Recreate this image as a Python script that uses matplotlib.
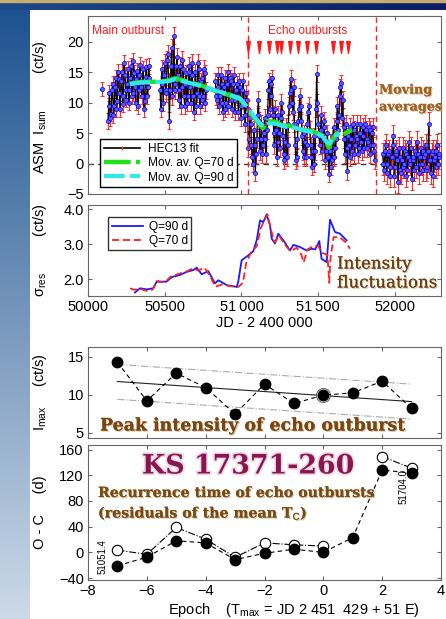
import numpy as np
import matplotlib.pyplot as plt
import matplotlib.patheffects as pe
from matplotlib.path import Path

plt.rcParams.update({
    "font.family": ["Liberation Sans", "DejaVu Sans"],
    "font.size": 10.5,
    "mathtext.fontset": "custom",
    "mathtext.rm": "Liberation Sans",
    "mathtext.it": "Liberation Sans",
})

W, H = 446, 619

# ---------------- data ----------------
# ASM light curve: each observing segment starts at lc_start and is sampled every 5 d;
# values alternate between the "a" and "b" lists
lc_start = [50090, 50130, 50470, 50830, 51920]
lc_step = 5
lc_a = [
    [12.2],
    [7.0, 11.5, 8.2, 13.0, 9.5, 14.0, 10.2, 13.8, 9.0, 15.0, 11.0, 14.5, 10.5, 15.5,
     12.0, 16.0, 11.5, 14.8, 10.0, 15.2, 12.0, 16.2, 11.0, 15.5, 10.2, 15.8, 12.5, 14.0],
    [12.0, 15.5, 10.0, 16.5, 11.5, 18.0, 7.0, 16.0, 11.0, 21.0, 12.0, 17.5, 10.5, 16.0,
     12.5, 15.5, 9.5, 14.8, 11.0, 16.0, 10.0, 14.5, 8.5, 15.0, 11.5, 15.5, 9.5, 14.0,
     11.0, 14.8, 12.0],
    [13.5, 10.5, 14.5, 11.0, 13.0, 8.5, 14.0, 10.0, 15.0, 11.5, 13.5, 9.0, 14.5, 10.5,
     13.0, 8.5, 12.5, 9.5, 13.5, 8.0, 11.5, 9.0, 4.0, 6.5, 1.0, 5.5, -1.5, 4.0,
     10.5, 2.0, 6.5, 3.0, 7.5, 1.5, 8.0, 13.5, 11.0, 14.0, 5.0, 9.0, 1.0, 8.0,
     2.5, 10.0, 4.5, 0.5, 6.0, 3.0, 9.5, 13.9, 10.0, 12.5, 3.0, 1.0, 7.0, 11.0,
     9.5, 2.0, 5.0, 1.0, 6.5, 9.5, 3.0, -0.5, 4.5, 2.0, 14.7, 6.5, 3.0, 8.0,
     4.0, 6.0, 2.0, 5.0, -1.7, 3.5, 0.5, 6.0, 2.5, 7.0, 5.5, 11.0, 13.2, 10.5,
     4.0, 6.5, -1.3, 3.0, 6.0, 2.0, 5.5, 3.0, 6.5, 1.5, 5.0, 3.5, 6.0, 2.5,
     5.5, 4.0, 6.0, 1.5, 5.0, 3.0, 0.5],
    [1.5, -1.0, 3.0, 0.0, 2.0, -2.0, 1.0, 4.5, -0.5, 2.0, -3.0, 1.0, -1.5, 2.5,
     0.0, 1.5, -1.0, 3.5, 0.5, -2.5, 1.0, 2.0, -0.5, 1.5, 0.0, 2.5, -1.0, 1.0,
     3.0, -0.5, 6.5, 0.5, 1.5, -2.0, 1.0, 2.0, 0.0, 1.5],
]
lc_b = [
    [],
    [9.5, 7.5, 12.0, 8.0, 12.5, 9.0, 15.0, 11.5, 13.5, 9.8, 16.5, 12.0, 13.0, 10.0,
     14.0, 11.0, 16.8, 12.5, 13.8, 9.5, 14.5, 12.5, 13.2, 9.0, 14.2, 11.0, 16.0],
    [9.0, 13.0, 14.5, 12.0, 17.0, 13.5, 12.0, 19.0, 14.0, 13.0, 16.0, 14.5, 12.0, 9.5,
     17.0, 11.0, 13.0, 10.0, 15.0, 12.5, 16.5, 11.0, 13.0, 9.5, 16.5, 11.0, 13.5, 10.5,
     15.5, 10.0],
    [11.0, 12.5, 9.5, 14.5, 10.0, 12.5, 9.0, 13.0, 9.5, 14.0, 10.5, 13.0, 8.5, 12.0,
     11.0, 13.5, 7.5, 12.0, 10.5, 6.5, 10.5, 2.5, 7.5, 3.0, 0.0, 3.0, 1.5, 8.0,
     7.0, 4.0, 1.5, 5.0, 4.0, 5.5, 12.0, 9.0, 13.0, 8.0, 3.0, 5.5, 3.5, 5.0,
     7.5, 8.5, 1.5, 3.5, 1.0, 6.5, 11.5, 12.0, 8.5, 6.5, 0.5, 4.0, 9.0, 7.0,
     4.5, 1.0, 3.5, 3.0, 8.5, 5.5, 1.0, 2.0, 0.0, 9.0, 10.0, 4.5, 5.5, 2.0,
     7.0, 0.5, 3.5, 1.0, 2.0, -0.5, 4.5, 1.0, 4.0, 9.5, 8.0, 12.5, 7.5, 6.0,
     1.5, 2.5, 4.5, 1.0, 4.0, 6.5, 1.5, 4.5, 4.0, 2.5, 6.5, 2.0, 4.5, 6.5,
     2.5, 3.5, 5.5, 3.0, 6.0, 2.0],
    [0.0, 2.0, -1.5, 1.5, -0.5, 1.0, 3.0, -2.0, 1.5, 0.5, 2.5, -1.0, 0.5, -0.5,
     2.0, -2.0, 1.0, 0.0, 2.5, 0.5, -1.0, 1.5, 3.5, -1.5, 1.0, 0.0, 2.0, 1.5,
     -1.0, 2.0, 0.5, -1.5, 2.0, 0.5, -0.5, 3.0, 1.0],
]
lc_err = [1.2, 1.3, 1.4, 1.4, 1.9]

# moving averages
mav70_t = [50272, 50350, 50430, 50520, 50570, 50650, 50740, 50840, 50910, 50990, 51040, 51080, 51120,
           51140, 51170, 51190, 51230, 51270, 51320, 51360, 51400, 51450, 51490, 51530, 51555, 51568,
           51590, 51622, 51660, 51690, 51720]
mav70 = [13.1, 13.4, 13.4, 13.6, 14.0, 13.4, 12.8, 11.8, 11.3, 10.6, 8.9, 7.6, 6.3,
         5.8, 7.0, 6.9, 6.8, 6.2, 6.2, 5.7, 5.5, 5.4, 5.0, 4.6, 3.6, 2.6,
         3.8, 5.0, 4.6, 5.2, 5.5]
mav90_t = [50272, 50350, 50430, 50520, 50570, 50650, 50740, 50840, 50910, 50990, 51040, 51080, 51120,
           51150, 51180, 51230, 51270, 51320, 51360, 51400, 51450, 51490, 51530, 51555, 51575, 51600, 51642]
mav90 = [13.0, 13.3, 13.3, 13.5, 13.8, 13.3, 12.7, 11.9, 11.4, 10.7, 9.2, 7.8, 6.6,
         6.0, 6.6, 6.5, 6.1, 6.0, 5.8, 5.5, 5.2, 5.0, 4.4, 3.5, 3.3, 4.6, 4.8]

echo_marks = [51043, 51113, 51181, 51229, 51257, 51316, 51369, 51424, 51484, 51599, 51646, 51693]
outburst_lines = [51040, 51877]

# residual scatter
sig90_t = [50306, 50339, 50382, 50425, 50447, 50512, 50545, 50599, 50643, 50686, 50708, 50741, 50784,
           50827, 50849, 50904, 50969, 50979, 51001, 51044, 51077, 51099, 51121, 51142, 51164, 51186,
           51197, 51218, 51240, 51273, 51316, 51338, 51381, 51425, 51457, 51480, 51507, 51522, 51555,
           51577, 51609, 51642, 51685]
sig90 = [1.62, 1.74, 1.71, 1.74, 1.93, 1.93, 2.06, 2.12, 2.21, 2.26, 2.33, 2.14, 2.23,
         1.88, 1.97, 1.83, 1.78, 1.93, 2.54, 2.68, 2.80, 3.11, 3.68, 3.63, 3.85, 3.54,
         3.16, 3.02, 3.30, 3.11, 2.82, 2.98, 2.92, 2.82, 2.87, 2.85, 3.09, 2.58, 2.49,
         3.70, 3.35, 3.30, 3.11]
sig70_t = [50274, 50300, 50340, 50390, 50420, 50450, 50500, 50540, 50590, 50640, 50680, 50720, 50760,
           50800, 50830, 50870, 50930, 50980, 51010, 51030, 51060, 51100, 51125, 51150, 51170, 51190,
           51215, 51245, 51280, 51320, 51360, 51390, 51405, 51430, 51470, 51500, 51525, 51560, 51572,
           51580, 51600, 51640, 51680, 51707]
sig70 = [1.74, 1.70, 1.72, 1.66, 1.70, 1.95, 1.90, 2.08, 2.15, 2.22, 2.30, 2.25, 2.33,
         2.05, 1.78, 1.85, 1.80, 1.78, 1.90, 2.45, 2.75, 2.95, 3.45, 3.70, 3.85, 3.45,
         3.05, 3.25, 3.00, 2.80, 2.90, 2.70, 2.48, 2.85, 2.95, 2.95, 2.75, 2.70, 1.90,
         2.60, 3.20, 3.20, 3.05, 2.87]

# echo outbursts vs epoch
epoch = [-7, -6, -5, -4, -3, -2, -1, 0, 1, 2, 3]
imax = [14.3, 9.2, 12.85, 10.95, 7.45, 11.4, 8.85, 9.95, 10.25, 11.8, 8.2]
imax_fit_E = [-7, 3]
imax_fit = [11.75, 9.1]
imax_hi = [14.0, 11.4]
imax_lo = [9.4, 6.8]
oc_filled = [-21, -7.4, 18, 14.7, -11.3, -1.5, 4.9, 0, 23, 128, 123.5]
oc_open = [3.4, -3, 38.7, 20.6, -7.8, 14.7, 11.8, 9.8, np.nan, 149, 131]


# ---------------- figure ----------------
fig = plt.figure(figsize=(W / 100, H / 100), dpi=100)

def fx(px):
    return px / W

def fy(py):
    return 1 - py / H

# slide background
bg = fig.add_axes([0, 0, 1, 1], zorder=-5)
bg.set_xlim(0, W)
bg.set_ylim(H, 0)
bg.axis("off")
grad_v = np.linspace(0, 1, 256).reshape(-1, 1)
c_top = np.array([0x1d, 0x52, 0x90]) / 255
c_bot = np.array([0xcd, 0xda, 0xe8]) / 255
strip = c_top + grad_v[..., None] * (c_bot - c_top)
bg.imshow(strip, extent=[0, 30, H, 10], aspect="auto")
grad_h = np.linspace(0, 1, 256).reshape(1, -1)
b_left = np.array([0x1b, 0x4a, 0x8a]) / 255
b_right = np.array([0x0d, 0x1a, 0x68]) / 255
band = b_left + grad_h[..., None] * (b_right - b_left)
bg.imshow(band, extent=[0, W, 10.5, 0], aspect="auto")
bg.fill_between([0, W], 0, 1.6, color="#c4ae6e")

def axbox(x0, y0, x1, y1):
    return fig.add_axes([fx(x0), fy(y1), (x1 - x0) / W, (y1 - y0) / H])

def style(ax):
    for s in ax.spines.values():
        s.set_color("#666666")
        s.set_linewidth(0.8)
    ax.tick_params(direction="in", length=3, color="#666666", top=True, right=True,
                   labelsize=10.5, pad=3)

# ---- panel 1: light curve ----
ax1 = axbox(88, 16, 441, 194)
style(ax1)
for t0, a, b, e in zip(lc_start, lc_a, lc_b, lc_err):
    r = np.empty(len(a) + len(b))
    r[0::2] = a
    r[1::2] = b
    t = t0 + lc_step * np.arange(len(r))
    ax1.errorbar(t, r, yerr=e, fmt="none", ecolor="#ff2a2a", elinewidth=0.8, capsize=1.3,
                 capthick=0.7, zorder=2)
    ax1.plot(t, r, "-", color="black", lw=0.9, zorder=3)
    ax1.plot(t, r, "o", ms=3.0, mfc="#5a5aff", mec="#0000dd", mew=0.5, zorder=4)
ax1.plot([], [], "-", color="black", lw=1.2, marker="|", mec="#ff4020", ms=3, label="HEC13 fit")
ax1.plot(mav70_t, mav70, color="#22e01e", lw=3.2, ls=(0, (6, 1.2)), zorder=5, label="Mov. av. Q=70 d")
ax1.plot(mav90_t, mav90, color="#33e8e8", lw=3.0, ls=(0, (5, 1.2)), zorder=6, label="Mov. av. Q=90 d")
ax1.axhline(0, color="#333333", lw=1.0, ls=(0, (4, 3)), zorder=1)
for xv in outburst_lines:
    ax1.axvline(xv, color="#ff2020", lw=1.0, ls=(0, (4, 2.5)), zorder=7)
tri = Path([(-0.3, 1), (0.3, 1), (0, -1), (-0.3, 1)],
           [Path.MOVETO, Path.LINETO, Path.LINETO, Path.CLOSEPOLY])
ax1.plot(echo_marks, [19.05] * len(echo_marks), ls="none", marker=tri, ms=8.5,
         color="#ff1a1a", zorder=8)
ax1.set_xlim(50000, 52300)
ax1.set_ylim(-4.2, 24.2)
ax1.set_yticks([-5, 0, 5, 10, 15, 20])
ax1.set_xticks([50000, 50500, 51000, 51500, 52000])
ax1.set_xticklabels([])
leg1 = ax1.legend(loc="lower left", bbox_to_anchor=(0.018, 0.005), fontsize=8.6, frameon=True,
                  fancybox=False, edgecolor="black", handlelength=3.0, borderpad=0.3,
                  labelspacing=0.2, handletextpad=0.7, framealpha=1)
leg1.get_frame().set_linewidth(1.0)
leg1.set_zorder(10)

# ---- panel 2: residual scatter ----
ax2 = axbox(88, 205, 441, 296)
style(ax2)
ax2.plot(sig90_t, sig90, color="#1a1aff", lw=1.3, label="Q=90 d")
ax2.plot(sig70_t, sig70, color="#ff2020", lw=1.3, ls=(0, (4, 2)), label="Q=70 d")
ax2.set_xlim(50000, 52300)
ax2.set_ylim(1.52, 4.12)
ax2.set_yticks([2.0, 3.0, 4.0])
ax2.set_yticklabels(["2.0", "3.0", "4.0"])
ax2.set_xticks([50000, 50500, 51000, 51500, 52000])
ax2.set_xticklabels(["50000", "50500", "51\u2009000", "51\u2009500", "52000"])
ax2.set_xlabel("JD - 2 400 000", fontsize=10.5, labelpad=1)
leg2 = ax2.legend(loc="upper left", bbox_to_anchor=(0.04, 0.93), fontsize=8.6, frameon=True,
                  fancybox=False, edgecolor="black", handlelength=2.6, borderpad=0.3,
                  labelspacing=0.15, handletextpad=0.5)
leg2.get_frame().set_linewidth(1.0)

# ---- panel 3: peak intensity ----
ax3 = axbox(88, 347, 441, 438)
style(ax3)
ax3.plot(imax_fit_E, imax_hi, color="#aaaaaa", lw=0.8, ls="-.")
ax3.plot(imax_fit_E, imax_lo, color="#aaaaaa", lw=0.8, ls="-.")
ax3.plot(imax_fit_E, imax_fit, color="#222222", lw=0.8)
ax3.plot([0], [imax[7]], "o", ms=10, mfc="white", mec="#555555", mew=0.7, zorder=3)
ax3.plot(epoch, imax, "o", ms=7.5, color="black", ls=(0, (4, 3)), lw=0.8, zorder=4)
ax3.set_xlim(-8, 4)
ax3.set_ylim(4.3, 16.3)
ax3.set_yticks([5, 10, 15])
ax3.set_xticks([-8, -6, -4, -2, 0, 2, 4])
ax3.set_xticklabels([])

# ---- panel 4: O-C ----
ax4 = axbox(88, 445, 441, 580)
style(ax4)
ax4.plot(epoch, oc_open, "o", ms=7.5, mfc="white", mec="black", mew=0.8, color="black",
         ls="-.", lw=0.8, zorder=3)
ax4.plot(epoch, oc_filled, "o", ms=7.5, color="black", ls=(0, (4, 3)), lw=0.8, zorder=4)
ax4.set_xlim(-8, 4)
ax4.set_ylim(-43, 167)
ax4.set_yticks([-40, 0, 40, 80, 120, 160])
ax4.set_xticks([-8, -6, -4, -2, 0, 2, 4])

# ---------------- text ----------------
lab = dict(rotation=90, ha="center", va="center", fontsize=10.5)
fig.text(fx(40), fy(107), "ASM  I$_{\\rm sum}$         (ct/s)", **lab)
fig.text(fx(40), fy(250), "\u03c3$_{\\rm res}$         (ct/s)", **lab)
fig.text(fx(40), fy(392), "I$_{\\rm max}$     (ct/s)", **lab)
fig.text(fx(40), fy(512), "O - C     (d)", **lab)
fig.text(fx(294), fy(610), "Epoch    (T$_{\\rm max}$ = JD 2 451  429 + 51 E)", ha="center",
         va="center", fontsize=10.5)

fig.text(fx(92), fy(31), "Main outburst", color="#ff1a1a", fontsize=8.6, va="center")
fig.text(fx(268), fy(31), "Echo outbursts", color="#ff1a1a", fontsize=8.6, va="center")

shadow = [pe.withSimplePatchShadow(offset=(0.8, -0.8), shadow_rgbFace="#c9b089", alpha=0.8),
          pe.Normal()]
serif = ["DejaVu Serif"]
fig.text(fx(379), fy(90), "Moving", color="#a0611f", fontsize=9.2, family=serif,
         weight="bold", va="center", path_effects=shadow)
fig.text(fx(379), fy(107), "averages", color="#a0611f", fontsize=9.2, family=serif,
         weight="bold", va="center", path_effects=shadow)
bg.plot([376, 350], [98, 126], color="#7a1010", lw=2.6, ls=(0, (2.5, 1.5)), zorder=9)
bg.annotate("", xy=(339, 138), xytext=(352, 124),
            arrowprops=dict(arrowstyle="-|>", color="#7a1010", lw=1.5, mutation_scale=16))

fig.text(fx(337), fy(264), "Intensity", color="#6b3c0c", fontsize=12, family=serif,
         va="center", path_effects=shadow)
fig.text(fx(337), fy(283), "fluctuations", color="#6b3c0c", fontsize=12, family=serif,
         va="center", path_effects=shadow)
fig.text(fx(100), fy(426), "Peak intensity of echo outburst", color="#7a4510", fontsize=12.5,
         family=serif, weight="bold", va="center", path_effects=shadow)

fig.text(fx(142), fy(466), "KS 17371-260", color="#86174f", fontsize=19.3, family=serif,
         weight="bold", va="center",
         path_effects=[pe.withStroke(linewidth=2.5, foreground="#f0d8e4")])
fig.text(fx(98), fy(493), "Recurrence time of echo outbursts", color="#7a4a14", fontsize=10.2,
         family=serif, weight="bold", va="center", path_effects=shadow)
fig.text(fx(98), fy(513), "(residuals of the mean T$_{\\rm C}$)", color="#7a4a14", fontsize=10.2,
         family=serif, weight="bold", va="center", path_effects=shadow)

fig.text(fx(103), fy(557), "51051.4", rotation=90, fontsize=7, ha="center", va="center")
fig.text(fx(404), fy(487), "51704.0", rotation=90, fontsize=7, ha="center", va="center")

fig.savefig("out.png", dpi=100)
